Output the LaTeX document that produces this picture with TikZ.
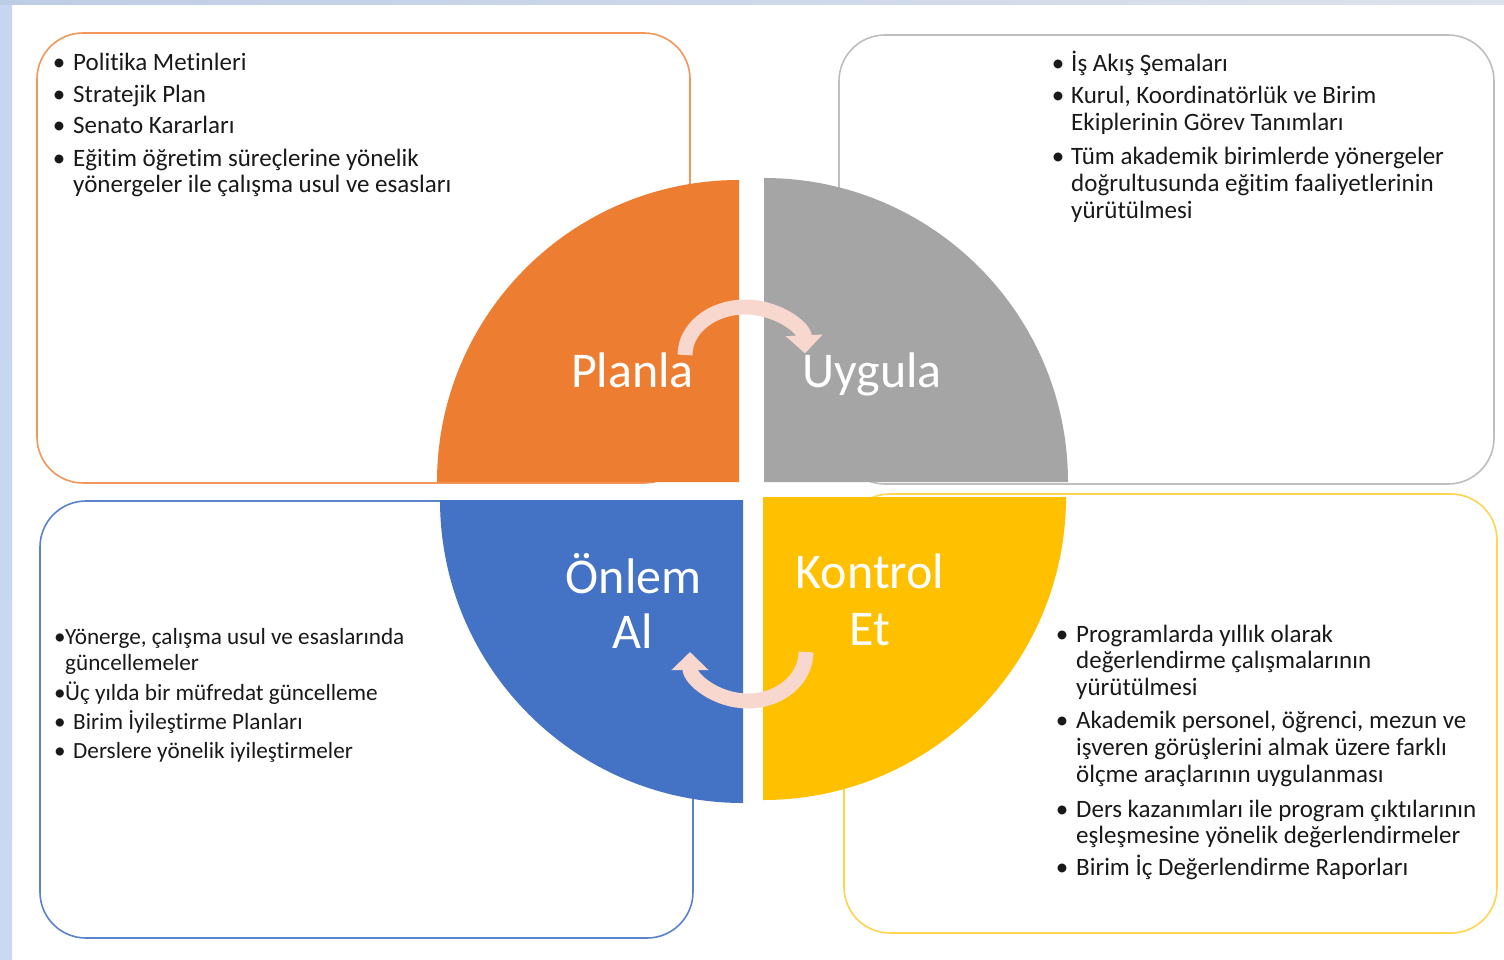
\documentclass[tikz,border=0pt]{standalone}
\usepackage{fontspec}
\setmainfont{Carlito}[Ligatures=NoCommon]
\usetikzlibrary{arrows.meta}
\definecolor{cOrange}{RGB}{237,125,49}
\definecolor{cGray}{RGB}{165,165,165}
\definecolor{cBlue}{RGB}{68,114,196}
\definecolor{cYellow}{RGB}{255,192,0}
\definecolor{cArrow}{RGB}{248,216,206}
\definecolor{cOrangeLine}{RGB}{242,150,90}
\definecolor{cGrayLine}{RGB}{190,190,190}
\definecolor{cBlueLine}{RGB}{90,130,205}
\definecolor{cYellowLine}{RGB}{255,212,80}
\definecolor{cText}{RGB}{25,25,25}
\definecolor{cStripA}{RGB}{196,214,240}
\definecolor{cStripB}{RGB}{214,214,228}
\definecolor{cStripC}{RGB}{200,218,240}
\definecolor{cTopA}{RGB}{190,205,230}
\definecolor{cTopB}{RGB}{222,226,236}
\begin{document}
\begin{tikzpicture}[x=1pt,y=-1pt,
  box/.style={line width=1.6pt, rounded corners=46pt},
  txt/.style={anchor=base west, inner sep=0pt, text=cText, font=\fontsize{25}{29}\selectfont},
  bul/.style={anchor=base, inner sep=0pt, text=cText, font=\fontsize{25}{29}\selectfont},
  txts/.style={anchor=base west, inner sep=0pt, text=cText, font=\fontsize{23.2}{27}\selectfont},
  buls/.style={anchor=base, inner sep=0pt, text=cText, font=\fontsize{23.2}{27}\selectfont},
  lab/.style={anchor=base, inner sep=0pt, text=white, font=\fontsize{50}{55}\selectfont},
  band/.style={draw=cArrow, line width=15pt, -{Triangle[width=36pt,length=18pt]}}]
\useasboundingbox (0,0) rectangle (1504,959);
\fill[white] (0,0) rectangle (1504,959);
% background strips
\shade[top color=cStripA, middle color=cStripB, bottom color=cStripC] (0,0) rectangle (12,959);
\shade[left color=cTopA, right color=cTopB] (0,0) rectangle (1504,4);
% boxes
\draw[box, draw=cOrangeLine] (37,33) rectangle (690,483);
\draw[box, draw=cGrayLine] (839,35) rectangle (1494,484);
\draw[box, draw=cBlueLine] (40,501) rectangle (693,938);
\draw[box, draw=cYellowLine] (844,494) rectangle (1497,933);
% quadrants
\fill[cOrange] (739,482) -- (437,482) arc[start angle=180, end angle=270, radius=302] -- cycle;
\fill[cGray] (764,482) -- (764,178) arc[start angle=270, end angle=360, radius=304] -- cycle;
\fill[cBlue] (743,500) -- (440,500) arc[start angle=180, end angle=90, radius=303] -- cycle;
\fill[cYellow] (763,497) -- (1066,497) arc[start angle=0, end angle=90, radius=303] -- cycle;
% quadrant labels
\node[lab] (planla) at (632.5,387) {Planla};
\node[lab] (uygula) at (872,387) {Uygula};
\node[lab] (onlem) at (633.5,593) {Önlem};
\node[lab] (al) at (633,648) {Al};
\node[lab] (kontrol) at (870,588) {Kontrol};
\node[lab] (et) at (870,645) {Et};
% cycle arrows
\coordinate (a1s) at (685,355);
\coordinate (a2s) at (806,652);
\draw[band] (a1s) arc[start angle=180, end angle=358, x radius=60, y radius=48];
\draw[band] (a2s) arc[start angle=0, end angle=180, x radius=58, y radius=49];
% top-left text
\node[bul] (tlb1) at (59,70) {•}; \node[txt] (tl1) at (73,70) {Politika Metinleri};
\node[bul] (tlb2) at (59,102) {•}; \node[txt] (tl2) at (73,102) {Stratejik Plan};
\node[bul] (tlb3) at (59,133) {•}; \node[txt] (tl3) at (73,133) {Senato Kararları};
\node[bul] (tlb4) at (59,166) {•}; \node[txt] (tl4) at (73,166) {Eğitim öğretim süreçlerine yönelik};
\node[txt] (tl5) at (73,192) {yönergeler ile çalışma usul ve esasları};
% top-right text
\node[bul] (trb1) at (1058,71) {•}; \node[txt] (tr1) at (1071,71) {İş Akış Şemaları};
\node[bul] (trb2) at (1058,103) {•}; \node[txt] (tr2) at (1071,103) {Kurul, Koordinatörlük ve Birim};
\node[txt] (tr3) at (1071,130) {Ekiplerinin Görev Tanımları};
\node[bul] (trb4) at (1058,164) {•}; \node[txt] (tr4) at (1071,164) {Tüm akademik birimlerde yönergeler};
\node[txt] (tr5) at (1071,191) {doğrultusunda eğitim faaliyetlerinin};
\node[txt] (tr6) at (1071,218) {yürütülmesi};
% bottom-left text
\node[buls] (blb1) at (60,644) {•}; \node[txts] (bl1) at (65,644) {Yönerge, çalışma usul ve esaslarında};
\node[txts] (bl2) at (65,670) {güncellemeler};
\node[buls] (blb3) at (60,700) {•}; \node[txts] (bl3) at (65,700) {Üç yılda bir müfredat güncelleme};
\node[buls] (blb4) at (60,729) {•}; \node[txts] (bl4) at (73,729) {Birim İyileştirme Planları};
\node[buls] (blb5) at (60,758) {•}; \node[txts] (bl5) at (73,758) {Derslere yönelik iyileştirmeler};
% bottom-right text
\node[bul] (brb1) at (1062,642) {•}; \node[txt] (br1) at (1076,642) {Programlarda yıllık olarak};
\node[txt] (br2) at (1076,668) {değerlendirme çalışmalarının};
\node[txt] (br3) at (1076,695) {yürütülmesi};
\node[bul] (brb4) at (1062,728) {•}; \node[txt] (br4) at (1076,728) {Akademik personel, öğrenci, mezun ve};
\node[txt] (br5) at (1076,755) {işveren görüşlerini almak üzere farklı};
\node[txt] (br6) at (1076,782) {ölçme araçlarının uygulanması};
\node[bul] (brb7) at (1062,817) {•}; \node[txt] (br7) at (1076,817) {Ders kazanımları ile program çıktılarının};
\node[txt] (br8) at (1076,843) {eşleşmesine yönelik değerlendirmeler};
\node[bul] (brb9) at (1062,875) {•}; \node[txt] (br9) at (1076,875) {Birim İç Değerlendirme Raporları};
\end{tikzpicture}
\end{document}
